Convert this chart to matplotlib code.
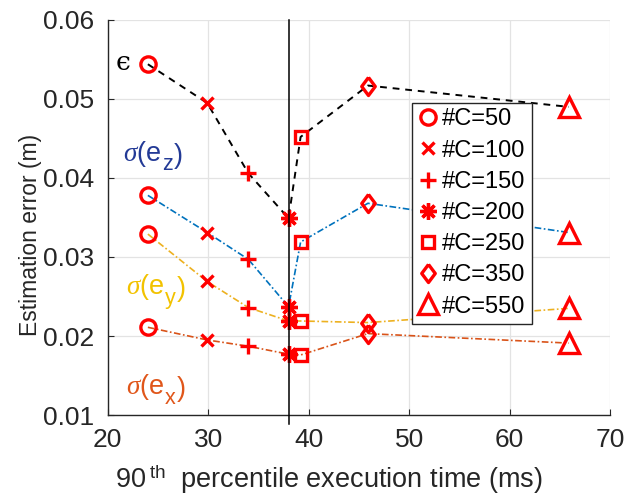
import matplotlib
matplotlib.use('Agg')
import matplotlib.pyplot as plt
from matplotlib import font_manager
from matplotlib.lines import Line2D

plt.rcParams['font.family'] = ['Liberation Sans', 'DejaVu Sans']
plt.rcParams['mathtext.fontset'] = 'custom'
plt.rcParams['mathtext.rm'] = 'Liberation Sans'
plt.rcParams['mathtext.it'] = 'Liberation Serif:italic'

# Datos
tiempo = [24.0, 29.9, 34.0, 38.0, 39.2, 45.9, 65.9]
num_c = ['50', '100', '150', '200', '250', '350', '550']
eps = [0.0544, 0.0495, 0.0406, 0.0349, 0.0452, 0.0517, 0.0490]
sig_z = [0.0378, 0.0331, 0.0297, 0.0237, 0.0319, 0.0368, 0.0331]
sig_y = [0.0329, 0.0269, 0.0236, 0.0219, 0.0219, 0.0217, 0.0235]
sig_x = [0.0211, 0.0195, 0.0187, 0.0177, 0.0176, 0.0203, 0.0191]
t_corte = 38.0

diamante = [(0, 1), (0.75, 0), (0, -1), (-0.75, 0), (0, 1)]
marcadores = ['o', 'x', '+', (8, 2, 0), 's', diamante, '^']
tamanos = [11, 8, 12, 12, 9, 13, 14]
rojo = '#ff0000'

series = [
    (eps, 'k', (0, (3.5, 3)), 1.4),
    (sig_z, '#0072BD', (0, (4, 1.5, 1, 1.5)), 1.2),
    (sig_y, '#EDB120', (0, (4, 1.5, 1, 1.5)), 1.2),
    (sig_x, '#D95319', (0, (4, 1.5, 1, 1.5)), 1.2),
]

# fuente estrecha para la etiqueta del eje y si existe
try:
    font_manager.findfont('Liberation Sans Narrow', fallback_to_default=False)
    fuente_y, tam_y = ['Liberation Sans Narrow'], 20.5
except ValueError:
    fuente_y, tam_y = ['Liberation Sans'], 16.5

fig = plt.figure(figsize=(6.36, 4.96), dpi=100)
ax = fig.add_axes([0.1693, 0.1633, 0.790, 0.7964])

for valores, color, estilo, lw in series:
    ax.plot(tiempo, valores, color=color, linestyle=estilo, linewidth=lw, zorder=2)
    for i in range(len(tiempo)):
        ax.plot(tiempo[i], valores[i], linestyle='none', marker=marcadores[i],
                markersize=tamanos[i], markeredgecolor=rojo, markerfacecolor='none',
                markeredgewidth=2.4, zorder=3)

ax.plot([t_corte, t_corte], [0.0089, 0.06], color='k', linewidth=1.1,
        clip_on=False, zorder=4)


def etiqueta_sigma(x, y, sub, color):
    # σ(e con subíndice grande y bajo, al estilo de MATLAB
    t1 = ax.text(x, y, r'$\sigma$(e', fontsize=19.5, color=color, va='bottom')
    t2 = ax.annotate(sub, xy=(1, 0), xycoords=t1, xytext=(0.5, -5),
                     textcoords='offset points', fontsize=15.5, color=color,
                     va='bottom', ha='left')
    ax.annotate(')', xy=(1, 0), xycoords=(t2, t1), xytext=(1, 0),
                textcoords='offset points', fontsize=19.5, color=color,
                va='bottom', ha='left')


ax.text(20.8, 0.0546, '\u03f5', fontsize=19, color='k', va='center', ha='left',
        family=['DejaVu Serif'])
etiqueta_sigma(21.5, 0.0412, 'z', '#233a96')
etiqueta_sigma(21.8, 0.0243, 'y', '#f2c200')
etiqueta_sigma(21.8, 0.0117, 'x', '#e0561a')

ax.set_xlim(20, 70)
ax.set_ylim(0.01, 0.06)
ax.set_xticks([20, 30, 40, 50, 60, 70])
ax.set_yticks([0.01, 0.02, 0.03, 0.04, 0.05, 0.06])
ax.set_yticklabels(['0.01', '0.02', '0.03', '0.04', '0.05', '0.06'])
ax.grid(True, color='#e3e3e3', linewidth=0.9)
ax.set_axisbelow(True)
for lado in ['top', 'right']:
    ax.spines[lado].set_visible(False)
for lado in ['left', 'bottom']:
    ax.spines[lado].set_color('#262626')
    ax.spines[lado].set_linewidth(1.0)
ax.tick_params(direction='in', length=4, colors='#262626', labelsize=19)
ax.tick_params(axis='y', pad=10)
ax.tick_params(axis='x', pad=9)

ax.set_xlabel('90$^{\\;\\rm th}$  percentile execution time (ms)', fontsize=19.5,
              color='#262626', labelpad=8)
ax.xaxis.label.set_x(0.441)
ax.set_ylabel('Estimation error (m)', fontsize=tam_y, color='#262626', family=fuente_y)
ax.yaxis.set_label_coords(-0.131, 0.455)

handles = [Line2D([], [], linestyle='none', marker=marcadores[i], markersize=tamanos[i],
                  markeredgecolor=rojo, markerfacecolor='none', markeredgewidth=2.4)
           for i in range(len(num_c))]
etiquetas = ['#C=' + c for c in num_c]
leg = ax.legend(handles, etiquetas, loc='upper left', bbox_to_anchor=(0.605, 0.791),
                fontsize=17, frameon=True, fancybox=False, framealpha=1,
                edgecolor='#262626', labelspacing=0.39, handlelength=0.9,
                handletextpad=0.15, borderpad=0.25, borderaxespad=0)
leg.get_frame().set_linewidth(1.0)
leg.set_zorder(5)

plt.savefig('out.png', dpi=100)
plt.close()
